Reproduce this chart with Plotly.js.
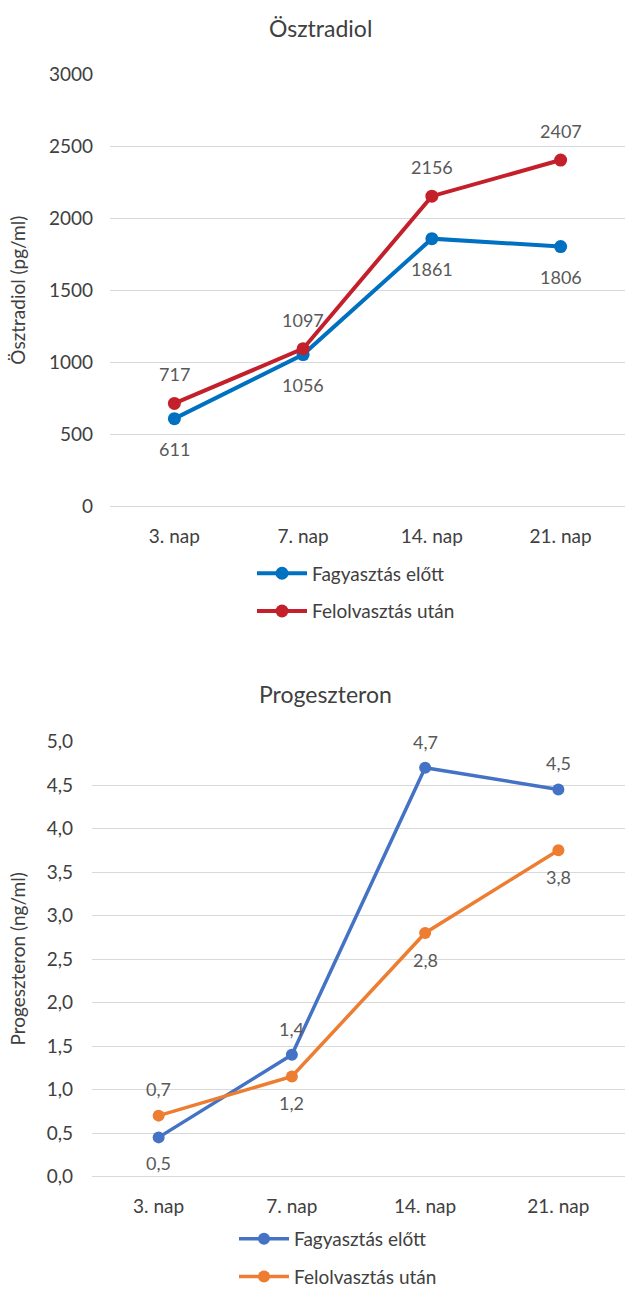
<!DOCTYPE html>
<html>
<head>
<meta charset="utf-8">
<script src="https://cdn.plot.ly/plotly-3.0.1.min.js"></script>
<style>
html,body{margin:0;padding:0;background:#fff;overflow:hidden;width:625px;height:1296px;}
#chart{position:absolute;left:0;top:0;width:625px;height:1296px;}
</style>
</head>
<body>
<div id="chart"></div>
<script>
// ---- data ----
const days = ['3. nap', '7. nap', '14. nap', '21. nap'];
const seriesNames = ['Fagyasztás előtt', 'Felolvasztás után'];
const e2Fagy = [611, 1056, 1861, 1806];
const e2Felol = [717, 1097, 2156, 2407];
const p4Fagy = [0.45, 1.4, 4.7, 4.45];
const p4Felol = [0.7, 1.15, 2.8, 3.75];

// ---- label placement (+1 above, -1 below) ----
const e2FagySide = [-1, -1, -1, -1];
const e2FelolSide = [1, 1, 1, 1];
const p4FagySide = [-1, 1, 1, 1];
const p4FelolSide = [1, -1, -1, -1];

const W = 625, H = 1296;
const FONT = 'Lato, "Open Sans", sans-serif';
const TXT = '#404040';
const LBL = '#595959';
const GRID = '#d9d9d9';

const c1 = '#0070c0', c2 = '#c4202b';
const c3 = '#4472c4', c4 = '#ed7d31';

function py(pix) { return 1 - pix / H; }
function fmt1(v) { return (Math.round(v * 10 + 1e-6) / 10).toFixed(1).replace('.', ','); }

const traces = [
  {x: days, y: e2Fagy, name: seriesNames[0], mode: 'lines+markers', xaxis: 'x', yaxis: 'y',
   line: {color: c1, width: 4}, marker: {color: c1, size: 13}, legend: 'legend', legendgroup: 'a'},
  {x: days, y: e2Felol, name: seriesNames[1], mode: 'lines+markers', xaxis: 'x', yaxis: 'y',
   line: {color: c2, width: 4}, marker: {color: c2, size: 13}, legend: 'legend', legendgroup: 'b'},
  {x: days, y: p4Fagy, name: seriesNames[0], mode: 'lines+markers', xaxis: 'x2', yaxis: 'y2',
   line: {color: c3, width: 3.5}, marker: {color: c3, size: 12}, legend: 'legend2', legendgroup: 'c'},
  {x: days, y: p4Felol, name: seriesNames[1], mode: 'lines+markers', xaxis: 'x2', yaxis: 'y2',
   line: {color: c4, width: 3.5}, marker: {color: c4, size: 12}, legend: 'legend2', legendgroup: 'd'}
];

const annotations = [];
function addLabels(vals, sides, xr, yr, fmt, shift) {
  vals.forEach((v, i) => {
    annotations.push({x: days[i], y: v, xref: xr, yref: yr, text: fmt(v), showarrow: false,
      yshift: sides[i] * shift, xanchor: 'center', yanchor: 'middle',
      font: {family: FONT, size: 18, color: LBL}});
  });
}
addLabels(e2Fagy, e2FagySide, 'x', 'y', v => String(v), 30);
addLabels(e2Felol, e2FelolSide, 'x', 'y', v => String(v), 29);
addLabels(p4Fagy, p4FagySide, 'x2', 'y2', fmt1, 26);
addLabels(p4Felol, p4FelolSide, 'x2', 'y2', fmt1, 27);

// titles
annotations.push({text: 'Ösztradiol', xref: 'paper', yref: 'paper', x: 320 / W, y: py(28),
  xanchor: 'center', yanchor: 'middle', showarrow: false, font: {family: FONT, size: 23, color: TXT}});
annotations.push({text: 'Progeszteron', xref: 'paper', yref: 'paper', x: 325 / W, y: py(697),
  xanchor: 'center', yanchor: 'middle', showarrow: false, font: {family: FONT, size: 23, color: TXT}});
annotations.push({text: 'Ösztradiol (pg/ml)', xref: 'paper', yref: 'paper', x: 18 / W, y: py(292),
  xanchor: 'center', yanchor: 'middle', textangle: -90, showarrow: false, font: {family: FONT, size: 19, color: TXT}});
annotations.push({text: 'Progeszteron (ng/ml)', xref: 'paper', yref: 'paper', x: 18 / W, y: py(964),
  xanchor: 'center', yanchor: 'middle', textangle: -90, showarrow: false, font: {family: FONT, size: 19, color: TXT}});

const tickFont = {family: FONT, size: 19, color: TXT};

const layout = {
  width: W, height: H,
  margin: {l: 0, r: 0, t: 0, b: 0},
  paper_bgcolor: '#fff', plot_bgcolor: '#fff',
  separators: ', ',
  showlegend: true,
  hovermode: false,
  xaxis: {domain: [110 / W, 1], anchor: 'y', range: [-0.5, 3.5], showgrid: false, zeroline: false,
    showline: false, ticks: '', tickfont: tickFont, ticklabelstandoff: 16, fixedrange: true},
  yaxis: {domain: [py(509), py(75)], anchor: 'x', range: [0, 3000], dtick: 500, tick0: 0,
    showgrid: true, gridcolor: GRID, gridwidth: 1, zeroline: true, zerolinecolor: GRID, zerolinewidth: 1,
    showline: false, ticks: '', tickfont: tickFont, ticklabelstandoff: 16, fixedrange: true},
  xaxis2: {domain: [92 / W, 1], anchor: 'y2', range: [-0.5, 3.5], showgrid: false, zeroline: false,
    showline: false, ticks: '', tickfont: tickFont, ticklabelstandoff: 16, fixedrange: true},
  yaxis2: {domain: [py(1182), py(745)], anchor: 'x2', range: [0, 5], dtick: 0.5, tick0: 0, tickformat: '.1f',
    showgrid: true, gridcolor: GRID, gridwidth: 1, zeroline: true, zerolinecolor: GRID, zerolinewidth: 1,
    showline: false, ticks: '', tickfont: tickFont, ticklabelstandoff: 18, fixedrange: true},
  legend: {x: 252 / W, y: py(557), xanchor: 'left', yanchor: 'top', orientation: 'v', itemwidth: 50,
    font: {family: FONT, size: 19, color: TXT}, bgcolor: 'rgba(0,0,0,0)', tracegroupgap: 10},
  legend2: {x: 234 / W, y: py(1226), xanchor: 'left', yanchor: 'top', orientation: 'v', itemwidth: 50,
    font: {family: FONT, size: 19, color: TXT}, bgcolor: 'rgba(0,0,0,0)', tracegroupgap: 10},
  annotations: annotations
};

Plotly.newPlot('chart', traces, layout, {displayModeBar: false, staticPlot: true});
</script>
</body>
</html>
